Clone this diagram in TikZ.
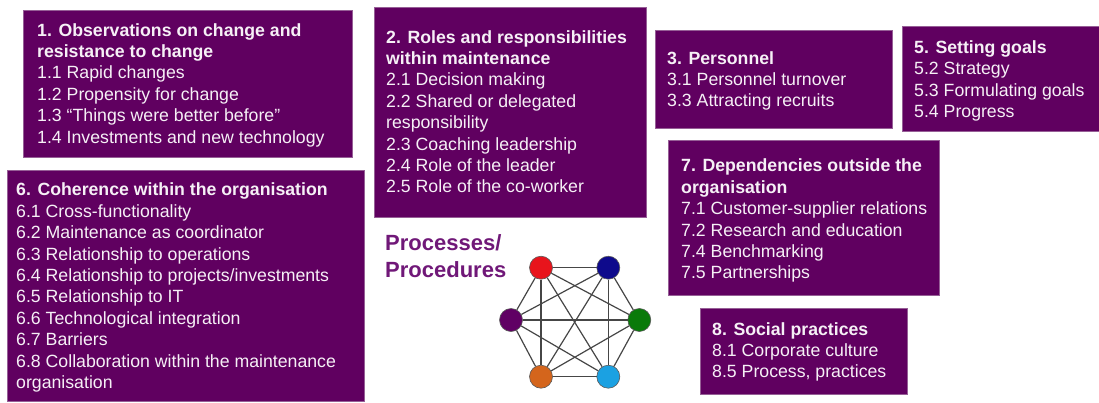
\documentclass[tikz,border=0pt]{standalone}
\usepackage{fontspec}
\setmainfont{Liberation Sans}
\definecolor{boxpurple}{RGB}{96,0,96}
\definecolor{boxedge}{RGB}{150,95,150}
\definecolor{boxtext}{RGB}{246,240,246}
\definecolor{headpurple}{RGB}{112,24,120}
\definecolor{edgegrey}{RGB}{70,70,70}
\definecolor{nred}{RGB}{232,20,28}
\definecolor{nnavy}{RGB}{14,10,140}
\definecolor{npurple}{RGB}{96,0,100}
\definecolor{ngreen}{RGB}{10,122,10}
\definecolor{norange}{RGB}{212,101,28}
\definecolor{nblue}{RGB}{27,161,226}
\tikzset{
  themebox/.style={draw=boxedge, fill=boxpurple, line width=0.6pt,
    inner sep=0pt, anchor=north west},
  themetext/.style={anchor=north west, inner sep=0pt, align=left,
    text=boxtext, font=\fontsize{17.7}{21.4}\selectfont},
  dot/.style={circle, minimum size=23pt, inner sep=0pt,
    draw={rgb,255:red,90;green,90;blue,90}, line width=0.6pt},
  link/.style={draw=edgegrey, line width=1.2pt},
}
\begin{document}
\begin{tikzpicture}[x=1pt, y=-1pt]
\useasboundingbox (0,0) rectangle (1099,402);

% theme boxes
\node[themebox, minimum width=329pt, minimum height=147pt] (b1) at (23,10) {};
\node[themebox, minimum width=272pt, minimum height=210pt] (b2) at (374,7) {};
\node[themebox, minimum width=237pt, minimum height=98pt]  (b3) at (655,30) {};
\node[themebox, minimum width=197pt, minimum height=105pt] (b5) at (902,26) {};
\node[themebox, minimum width=357pt, minimum height=231pt] (b6) at (7,170) {};
\node[themebox, minimum width=271pt, minimum height=155pt] (b7) at (668,140) {};
\node[themebox, minimum width=207pt, minimum height=86pt]  (b8) at (700,308) {};

% box contents
\node[themetext] (t1) at (37,21.0) {\strut\textbf{1. Observations on change and}\\
  \textbf{resistance to change}\\
  1.1 Rapid changes\\
  1.2 Propensity for change\\
  1.3 “Things were better before”\\
  1.4 Investments and new technology};

\node[themetext] (t2) at (386,28.0) {\strut\textbf{2. Roles and responsibilities}\\
  \textbf{within maintenance}\\
  2.1 Decision making\\
  2.2 Shared or delegated\\
  responsibility\\
  2.3 Coaching leadership\\
  2.4 Role of the leader\\
  2.5 Role of the co-worker};

\node[themetext] (t3) at (667,49.0) {\strut\textbf{3. Personnel}\\
  3.1 Personnel turnover\\
  3.3 Attracting recruits};

\node[themetext] (t5) at (914,38.3) {\strut\textbf{5. Setting goals}\\
  5.2 Strategy\\
  5.3 Formulating goals\\
  5.4 Progress};

\node[themetext] (t6) at (16,180.7) {\strut\textbf{6. Coherence within the organisation}\\
  6.1 Cross-functionality\\
  6.2 Maintenance as coordinator\\
  6.3 Relationship to operations\\
  6.4 Relationship to projects/investments\\
  6.5 Relationship to IT\\
  6.6 Technological integration\\
  6.7 Barriers\\
  6.8 Collaboration within the maintenance\\
  organisation};

\node[themetext] (t7) at (681,156.7) {\strut\textbf{7. Dependencies outside the}\\
  \textbf{organisation}\\
  7.1 Customer-supplier relations\\
  7.2 Research and education\\
  7.4 Benchmarking\\
  7.5 Partnerships};

\node[themetext] (t8) at (712,320.0) {\strut\textbf{8. Social practices}\\
  8.1 Corporate culture\\
  8.5 Process, practices};

% heading of the network
\node[anchor=north west, inner sep=0pt, align=left, text=headpurple,
  font=\fontsize{22}{27}\selectfont\bfseries] (proc) at (385,231.1)
  {\strut Processes/\\Procedures};

% fully connected network of six processes
\node[dot, fill=nred]    (n1) at (541,267.7) {};
\node[dot, fill=nnavy]   (n2) at (608.3,267.7) {};
\node[dot, fill=ngreen]  (n3) at (639.3,320) {};
\node[dot, fill=nblue]   (n4) at (608.3,376.7) {};
\node[dot, fill=norange] (n5) at (541,376.7) {};
\node[dot, fill=npurple] (n6) at (511,320) {};

\foreach \a/\b in {n1/n2,n1/n3,n1/n4,n1/n5,n1/n6,
                   n2/n3,n2/n4,n2/n5,n2/n6,
                   n3/n4,n3/n5,n3/n6,
                   n4/n5,n4/n6,
                   n5/n6}
  \draw[link] (\a) -- (\b);
\end{tikzpicture}
\end{document}
